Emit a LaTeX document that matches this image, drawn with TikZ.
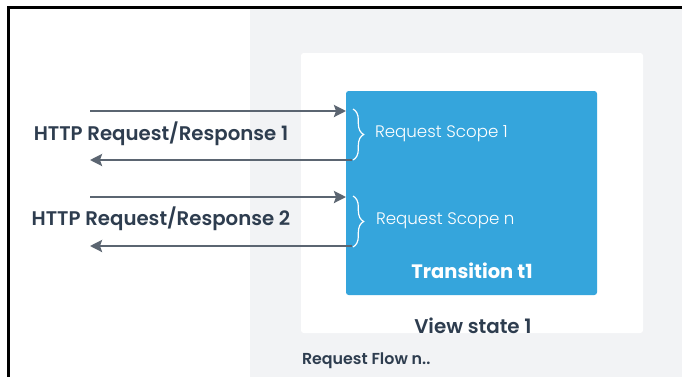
\documentclass[tikz,border=0pt]{standalone}
\usepackage{fontspec}
\setmainfont{Poppins}
\IfFontExistsTF{Poppins SemiBold}{\newfontfamily\semifont{Poppins SemiBold}}{\newcommand\semifont{\bfseries}}
\IfFontExistsTF{Poppins Light}{\newfontfamily\lightfont{Poppins Light}}{\newcommand\lightfont{\normalfont}}
\usetikzlibrary{arrows.meta, positioning, decorations.pathreplacing}
\definecolor{flowgray}{HTML}{F2F3F5}
\definecolor{scopeblue}{HTML}{35A5DC}
\definecolor{slate}{HTML}{2E3D4F}
\definecolor{arrowgray}{HTML}{5B6571}

\begin{document}
\begin{tikzpicture}[
    x=0.75pt, y=-0.75pt,
    every node/.style={inner sep=0pt, outer sep=0pt},
    panel/.style={rectangle, anchor=north west},
    http/.style={font=\fontsize{14.8}{17}\semifont, text=slate},
    scopetext/.style={font=\fontsize{12.5}{15}\lightfont, text=white, anchor=west},
    flow/.style={draw=arrowgray, line width=1.8pt, -{Stealth[length=9pt, width=9pt, inset=1.5pt]}},
    scope/.style={draw=white, line width=0.9pt, decorate, decoration={brace, amplitude=8pt}}
]
    \useasboundingbox (0,0) rectangle (682,376);
    \clip (0,0) rectangle (682,376);
    \fill[white] (0,0) rectangle (682,376);

    % boxes
    \node [panel, fill=flowgray, minimum width=324pt, minimum height=276pt] (flowarea) at (250,9) {};
    \node [panel, fill=white, rounded corners=2pt, minimum width=256.5pt, minimum height=210pt] (view) at (301,53) {};
    \node [panel, fill=scopeblue, rounded corners=2pt, minimum width=188.25pt, minimum height=153pt] (trans) at (346,91) {};

    \draw [black, line width=1.9pt] (8.5,7.5) rectangle (720,420);

    % labels
    \node [http] (http1) at (161,134) {HTTP Request/Response 1};
    \node [http] (http2) at (161,219) {HTTP Request/Response 2};
    \node [font=\fontsize{14.6}{17}\bfseries, text=white] (tlabel) at (472,271) {Transition t1};
    \node [font=\fontsize{14.9}{17}\semifont, text=slate] (vlabel) at (473,326) {View state 1};
    \node [font=\fontsize{11.9}{14}\semifont, text=slate, anchor=west] (flabel) at (302,361) {Request Flow n..};

    % request / response arrows
    \coordinate (req1) at (90,111);
    \coordinate (res1) at (90,160);
    \coordinate (req2) at (90,197);
    \coordinate (res2) at (90,246);
    \path [flow] (req1) -- (req1 -| trans.west);
    \path [flow] ([xshift=4.5pt]trans.west |- res1) -- (res1);
    \path [flow] (req2) -- (req2 -| trans.west);
    \path [flow] ([xshift=4.5pt]trans.west |- res2) -- (res2);

    % scopes
    \coordinate (s1top) at (353,109);
    \coordinate (s1bot) at (353,160);
    \coordinate (s2top) at (353,196);
    \coordinate (s2bot) at (353,247);
    \draw [scope] (s1top) -- (s1bot);
    \draw [scope] (s2top) -- (s2bot);
    \node [scopetext] (scope1) at (375,134) {Request Scope 1};
    \node [scopetext] (scopen) at (376,221) {Request Scope n};

\end{tikzpicture}
\end{document}
